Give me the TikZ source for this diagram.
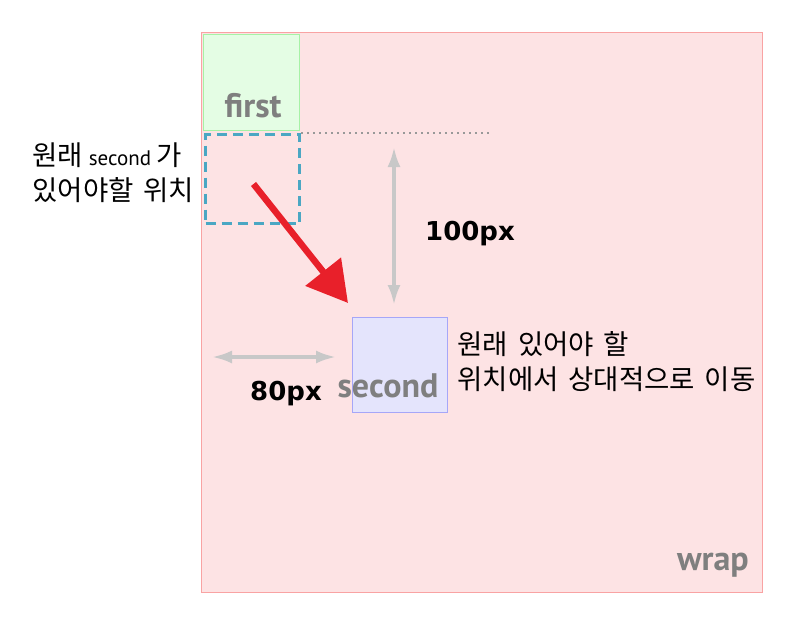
\documentclass[tikz,border=0pt]{standalone}
\usepackage{fontspec}
\setmainfont{DejaVu Sans}
\newfontfamily\kr[WordSpace=1.6]{Noto Sans CJK KR}
\newfontfamily\lblfont{PT Sans}
\usetikzlibrary{arrows.meta}
\definecolor{wrapfill}{HTML}{FDE3E4}
\definecolor{wrapline}{HTML}{F9A3A3}
\definecolor{firstfill}{HTML}{E4FDE4}
\definecolor{firstline}{HTML}{A6F2A6}
\definecolor{secondfill}{HTML}{E4E4FC}
\definecolor{secondline}{HTML}{A6A6F8}
\definecolor{ghostline}{HTML}{4BA7C3}
\definecolor{movered}{HTML}{E8202A}
\definecolor{dimgray}{HTML}{C8C8C8}
\definecolor{lblgray}{HTML}{7F7F7F}
\tikzset{
every picture/.style={
line width=1.2pt
},
box/.style={draw, anchor=north west, inner sep=0pt},
lbl/.style={text=lblgray, anchor=base, font=\lblfont\bfseries\fontsize{34}{34}\selectfont},
px/.style={anchor=base, font=\bfseries\fontsize{26}{26}\selectfont},
dim/.style={draw=dimgray, line width=3.5pt, {Latex[length=20pt,width=13pt]}-{Latex[length=20pt,width=13pt]}},
note/.style={anchor=north west, inner sep=0pt, align=left, font=\kr\fontsize{27.5}{35}\selectfont}
}

\begin{document}
\begin{tikzpicture}[x=1pt, y=-1pt]
\useasboundingbox (0,0) rectangle (800,632);

\node (wrap) [box, draw=wrapline, fill=wrapfill, minimum width=561pt, minimum height=560pt] at (201,32) {};
\node (first) [box, draw=firstline, fill=firstfill, minimum width=96pt, minimum height=96pt] at (203,34) {};
\node (ghost) [box, draw=ghostline, line width=3pt, dash pattern=on 10pt off 6pt, minimum width=94pt, minimum height=89pt] at (204,133) {};
\node (second) [box, draw=secondline, fill=secondfill, minimum width=95pt, minimum height=95pt] at (352,317) {};

\node (firstlbl) [lbl] at (253,117) {first};
\node (secondlbl) [lbl] at (388,397) {second};
\node (wraplbl) [lbl] at (713,570) {wrap};

\coordinate (guide) at (490,133);
\draw [gray!80, line width=2.2pt, dash pattern=on 2pt off 4pt] (ghost.north east) -- (guide);

\coordinate (vtop) at (394,147);
\coordinate (vbot) at (394,305);
\coordinate (hleft) at (212,357);
\coordinate (hright) at (336,357);
\draw [dim] (vtop) -- (vbot);
\draw [dim] (hleft) -- (hright);

\node (vlbl) [px] at (470,240) {100px};
\node (hlbl) [px] at (286,400) {80px};

\coordinate (tip) at ([shift={(-4,-14)}]second.north west);
\draw [movered, line width=6.5pt, -{Triangle[length=40pt,width=44pt]}] ([shift={(1,5)}]ghost.center) -- (tip);

\node (oldpos) [note] at (32,142) {원래{\lblfont\fontsize{21}{21}\selectfont\ second\ }가\\있어야할 위치};
\node (moved) [note] at (457,331) {원래 있어야 할\\위치에서 상대적으로 이동};
\end{tikzpicture}
\end{document}
